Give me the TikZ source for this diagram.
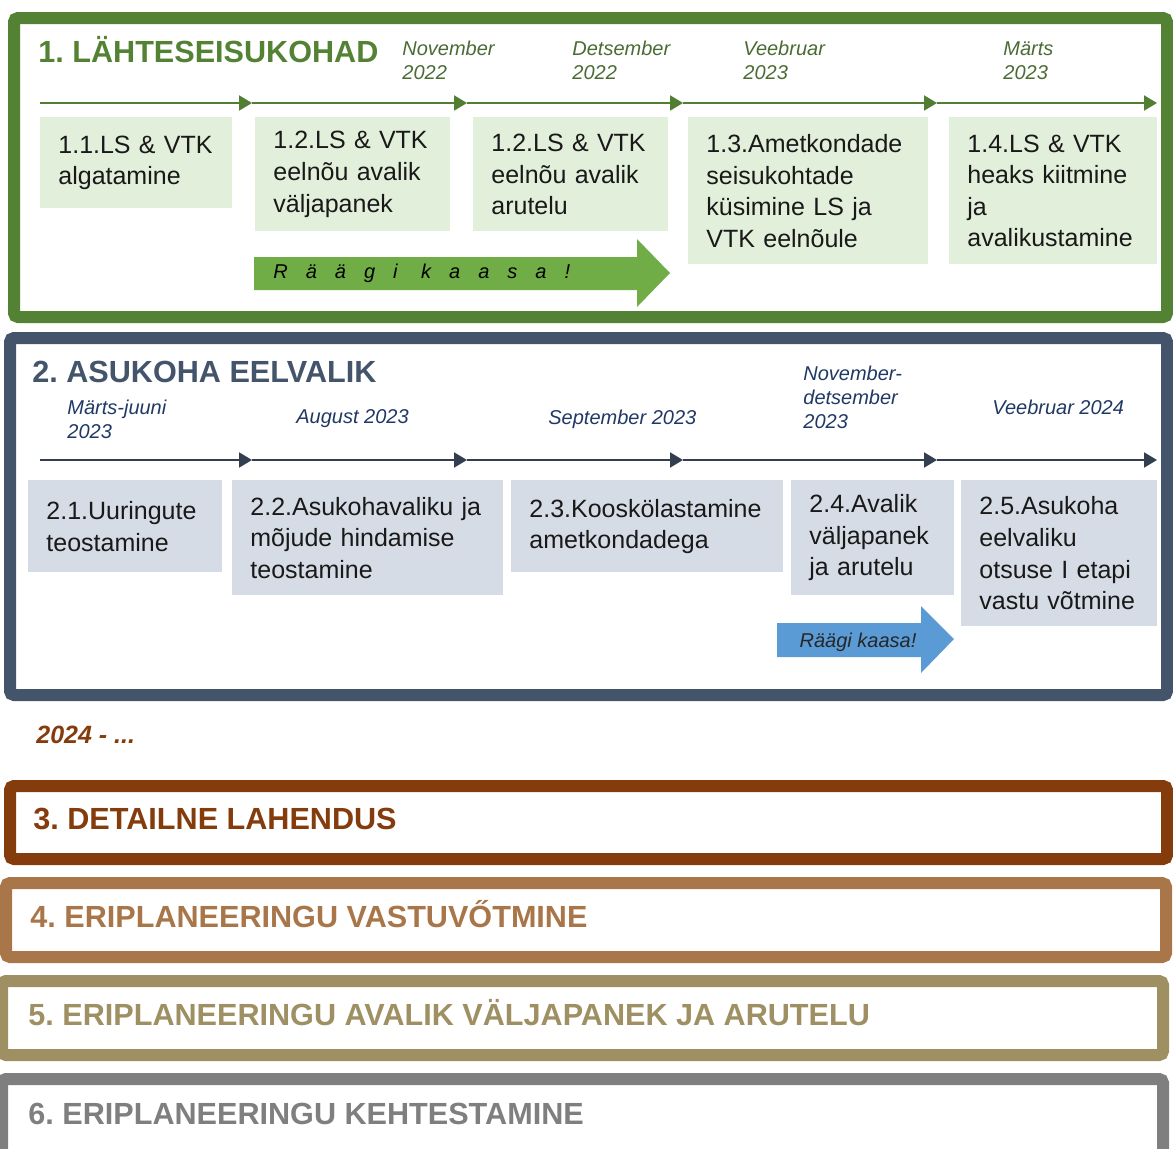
\documentclass[tikz,border=0pt]{standalone}
\usepackage{fontspec}
\setmainfont{Liberation Sans}
\newfontfamily\spacedfont[LetterSpace=90]{Liberation Sans}
\usepackage{xcolor}
\usetikzlibrary{arrows.meta,positioning}
\frenchspacing

\definecolor{frameA}{HTML}{548235}
\definecolor{dateA}{HTML}{4A6B33}
\definecolor{lineA}{HTML}{507E32}
\definecolor{fillA}{HTML}{E2EFDA}
\definecolor{talkA}{HTML}{70AD47}
\definecolor{frameB}{HTML}{44546A}
\definecolor{dateB}{HTML}{1F3864}
\definecolor{lineB}{HTML}{333F50}
\definecolor{fillB}{HTML}{D6DCE5}
\definecolor{talkB}{HTML}{5B9BD5}
\definecolor{frameC}{HTML}{843C0C}
\definecolor{frameD}{HTML}{A9764A}
\definecolor{frameE}{HTML}{9E9062}
\definecolor{frameF}{HTML}{7F7F7F}

\tikzset{
  phase/.style={line width=6pt,rounded corners=2pt},
  phasetitle/.style={anchor=base west,inner sep=0pt,font=\fontsize{15.3}{18}\selectfont\bfseries},
  datelbl/.style={anchor=base west,inner sep=0pt,align=left,font=\fontsize{10}{12}\selectfont\itshape},
  stepbox/.style 2 args={anchor=north west,inner xsep=9pt,inner ysep=0pt,align=left,
    text width=#1,minimum height=#2,text=black!90,font=\fontsize{12.5}{15.8}\selectfont},
  tl/.style={line width=1pt,-{Triangle[length=6.5pt,width=7.5pt]}},
}

\begin{document}
\begin{tikzpicture}[x=0.5pt,y=-0.5pt]
    \useasboundingbox (0,0) rectangle (1173,1148);
    \clip (0,0) rectangle (1173,1148);
    % Phase frames
    \draw[phase,frameA] (14,18) rectangle (1167,317);
    \draw[phase,frameB] (10,338) rectangle (1167,695);
    \draw[phase,frameC] (10,786) rectangle (1167,859);
    \draw[phase,frameD] (6,883) rectangle (1166,957);
    \draw[phase,frameE] (2,981) rectangle (1163,1055);
    \draw[phase,frameF] (2,1079) rectangle (1163,1170);
    % Titles
    \node[phasetitle,frameA] (p1) at (38,62) {1. LÄHTESEISUKOHAD};
    \node[phasetitle,frameB] (p2) at (32,382) {2. ASUKOHA EELVALIK};
    \node[phasetitle,frameC] (p3) at (33,829) {3. DETAILNE LAHENDUS};
    \node[phasetitle,frameD] (p4) at (30,927) {4. ERIPLANEERINGU VASTUVŐTMINE};
    \node[phasetitle,frameE] (p5) at (28,1025) {5. ERIPLANEERINGU AVALIK VÄLJAPANEK JA ARUTELU};
    \node[phasetitle,frameF] (p6) at (28,1124) {6. ERIPLANEERINGU KEHTESTAMINE};
    \node[anchor=base west,inner sep=0pt,frameC,font=\fontsize{12.5}{15}\selectfont\bfseries\itshape] (later) at (36,743) {2024 - ...};
    % Timelines
    \coordinate (ta0) at (40,103);
    \coordinate (tb0) at (40,460);
    \foreach \x [count=\k] in {252,467,683,937,1157} {
      \coordinate (ta\k) at (\x,103);
      \coordinate (tb\k) at (\x,460);
    }
    \foreach \k [remember=\k as \j (initially 0)] in {1,...,5} {
      \draw[tl,lineA] (ta\j) -- (ta\k);
      \draw[tl,lineB] (tb\j) -- (tb\k);
    }
    % Dates (base = last line)
    \node[datelbl,dateA] (d11) at (402,79) {November\\2022};
    \node[datelbl,dateA] (d12) at (572,79) {Detsember\\2022};
    \node[datelbl,dateA] (d13) at (743,79) {Veebruar\\2023};
    \node[datelbl,dateA] (d14) at (1003,79) {Märts\\2023};
    \node[datelbl,dateB] (d21) at (67,438) {Märts-juuni\\2023};
    \node[datelbl,dateB] (d22) at (296,423) {August 2023};
    \node[datelbl,dateB] (d23) at (548,424) {September 2023};
    \node[datelbl,dateB] (d24) at (803,428) {November-\\detsember\\2023};
    \node[datelbl,dateB] (d25) at (992,414) {Veebruar 2024};
    % Steps
    \node[stepbox={78pt}{45.5pt},fill=fillA] (s11) at (40,117) {1.1.LS \& VTK\\algatamine};
    \node[stepbox={79.5pt}{57pt},fill=fillA] (s12) at (255,117) {1.2.LS \& VTK\\eelnõu avalik\\väljapanek};
    \node[stepbox={79.5pt}{57pt},fill=fillA] (s13) at (473,117) {1.2.LS \& VTK\\eelnõu avalik\\arutelu};
    \node[stepbox={102pt}{73.5pt},fill=fillA] (s14) at (688,117) {1.3.Ametkondade\\seisukohtade\\küsimine LS ja\\VTK eelnõule};
    \node[stepbox={86pt}{73.5pt},fill=fillA] (s15) at (949,117) {1.4.LS \& VTK\\heaks kiitmine\\ja\\avalikustamine};
    \node[stepbox={79pt}{46pt},fill=fillB] (s21) at (28,480) {2.1.Uuringute\\teostamine};
    \node[stepbox={117.5pt}{57.5pt},fill=fillB] (s22) at (232,480) {2.2.Asukohavaliku ja\\mõjude hindamise\\teostamine};
    \node[stepbox={118pt}{46pt},fill=fillB] (s23) at (511,480) {2.3.Kooskölastamine\\ametkondadega};
    \node[stepbox={63.5pt}{57.5pt},fill=fillB] (s24) at (791,480) {2.4.Avalik\\väljapanek\\ja arutelu};
    \node[stepbox={80pt}{73pt},fill=fillB] (s25) at (961,480) {2.5.Asukoha\\eelvaliku\\otsuse I etapi\\vastu võtmine};
    % Talk arrows
    \fill[talkA] (254,257) -- (637,257) -- (637,239) -- (670,273) -- (637,307) -- (637,290) -- (254,290) -- cycle;
    \node[anchor=base west,inner sep=0pt,font=\spacedfont\fontsize{10}{12}\selectfont\itshape] (talk1) at (273,278) {Räägi kaasa!};
    \fill[talkB] (777,623) -- (921,623) -- (921,606) -- (954,639) -- (921,673) -- (921,657) -- (777,657) -- cycle;
    \node[anchor=base,inner sep=0pt,text=black!85,font=\fontsize{10}{12}\selectfont\itshape] (talk2) at (858,647) {Räägi kaasa!};
\end{tikzpicture}
\end{document}
